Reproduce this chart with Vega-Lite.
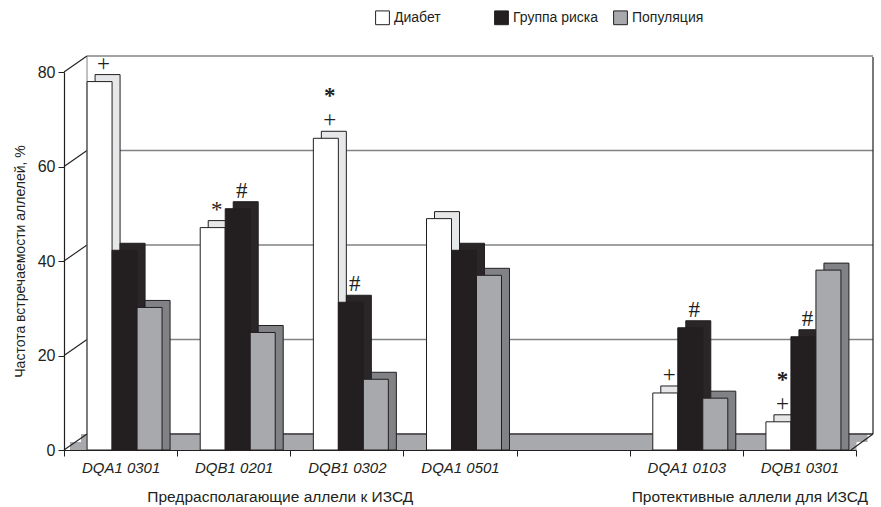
{
  "$schema": "https://vega.github.io/schema/vega-lite/v6.json",
  "width": 792,
  "height": 378,
  "autosize": {"type": "none"},
  "padding": {"left": 64, "top": 72, "right": 25, "bottom": 57},
  "background": "white",
  "config": {
    "view": {"stroke": null},
    "font": "Liberation Sans",
    "axis": {"grid": false, "domainColor": "#231f20", "tickColor": "#231f20", "labelColor": "#231f20", "titleColor": "#231f20"},
    "axisX": {"tickBand": "extent", "labelFontStyle": "italic", "labelFontSize": 15, "tickSize": 6, "labelPadding": 4, "labelAngle": 0, "domainWidth": 1.2},
    "axisY": {"labelFontSize": 16, "tickSize": 6, "labelPadding": 3, "titleFontSize": 14, "titleFontWeight": "normal", "titlePadding": 10, "domainWidth": 1.2, "tickCount": 5}
  },
  "datasets": {
    "bars": [
      {"allele": "DQA1 0301", "series": "Диабет", "value": 76.7, "m1": "+", "m2": ""},
      {"allele": "DQA1 0301", "series": "Группа риска", "value": 41.0, "m1": "", "m2": ""},
      {"allele": "DQA1 0301", "series": "Популяция", "value": 28.9, "m1": "", "m2": ""},
      {"allele": "DQB1 0201", "series": "Диабет", "value": 45.8, "m1": "*", "m2": ""},
      {"allele": "DQB1 0201", "series": "Группа риска", "value": 49.8, "m1": "#", "m2": ""},
      {"allele": "DQB1 0201", "series": "Популяция", "value": 23.6, "m1": "", "m2": ""},
      {"allele": "DQB1 0302", "series": "Диабет", "value": 64.7, "m1": "+", "m2": "*"},
      {"allele": "DQB1 0302", "series": "Группа риска", "value": 30.0, "m1": "#", "m2": ""},
      {"allele": "DQB1 0302", "series": "Популяция", "value": 13.7, "m1": "", "m2": ""},
      {"allele": "DQA1 0501", "series": "Диабет", "value": 47.7, "m1": "", "m2": ""},
      {"allele": "DQA1 0501", "series": "Группа риска", "value": 41.0, "m1": "", "m2": ""},
      {"allele": "DQA1 0501", "series": "Популяция", "value": 35.7, "m1": "", "m2": ""},
      {"allele": "DQA1 0103", "series": "Диабет", "value": 10.8, "m1": "+", "m2": ""},
      {"allele": "DQA1 0103", "series": "Группа риска", "value": 24.6, "m1": "#", "m2": ""},
      {"allele": "DQA1 0103", "series": "Популяция", "value": 9.7, "m1": "", "m2": ""},
      {"allele": "DQB1 0301", "series": "Диабет", "value": 4.7, "m1": "+", "m2": "*"},
      {"allele": "DQB1 0301", "series": "Группа риска", "value": 22.7, "m1": "#", "m2": ""},
      {"allele": "DQB1 0301", "series": "Популяция", "value": 36.8, "m1": "", "m2": ""}
    ],
    "ticks": [{"v": 0}, {"v": 20}, {"v": 40}, {"v": 60}, {"v": 80}],
    "groups": [
      {"label": "Предрасполагающие аллели к ИЗСД", "at": "DQB1 0201"},
      {"label": "Протективные аллели для ИЗСД", "at": "DQA1 0103"}
    ]
  },
  "resolve": {"scale": {"x": "independent"}},
  "layer": [
    {
      "data": {"name": "ticks"},
      "layer": [
        {
          "transform": [{"filter": "datum.v === 0"}],
          "mark": {"type": "rect", "fill": "#a7a9ac", "xOffset": 6, "x2Offset": 0.5, "y2Offset": -8},
          "encoding": {
            "x": {"datum": 0, "type": "quantitative", "scale": {"domain": [0, 1]}, "axis": null},
            "x2": {"datum": 1},
            "y": {"field": "v", "type": "quantitative", "scale": {"domain": [0, 80]}, "title": "Частота встречаемости аллелей, %"},
            "y2": {"field": "v"}
          }
        },
        {
          "transform": [{"filter": "datum.v === 0"}],
          "mark": {"type": "rect", "fill": "#a7a9ac", "xOffset": 17, "x2Offset": 11.5, "yOffset": -8, "y2Offset": -16},
          "encoding": {
            "x": {"datum": 0, "type": "quantitative"},
            "x2": {"datum": 1},
            "y": {"field": "v", "type": "quantitative", "title": "Частота встречаемости аллелей, %"},
            "y2": {"field": "v"}
          }
        },
        {
          "mark": {"type": "rule", "stroke": "#808285", "strokeWidth": 1.5, "xOffset": 23, "x2Offset": 17, "yOffset": -16, "y2Offset": -16},
          "encoding": {
            "x": {"datum": 0, "type": "quantitative"},
            "x2": {"datum": 1},
            "y": {"field": "v", "type": "quantitative", "title": "Частота встречаемости аллелей, %"},
            "y2": {"field": "v"}
          }
        },
        {
          "transform": [{"filter": "datum.v === 0"}],
          "mark": {"type": "rule", "stroke": "#231f20", "strokeWidth": 1.2, "xOffset": 23, "x2Offset": 17, "yOffset": -16, "y2Offset": -16},
          "encoding": {
            "x": {"datum": 0, "type": "quantitative"},
            "x2": {"datum": 1},
            "y": {"field": "v", "type": "quantitative", "title": "Частота встречаемости аллелей, %"},
            "y2": {"field": "v"}
          }
        },
        {
          "mark": {"type": "point", "shape": "stroke", "angle": -34.8, "size": 784, "filled": false, "stroke": "#231f20", "strokeWidth": 1.1, "opacity": 1, "xOffset": 11.5, "yOffset": -8},
          "encoding": {
            "x": {"datum": 0, "type": "quantitative"},
            "y": {"field": "v", "type": "quantitative", "title": "Частота встречаемости аллелей, %"}
          }
        },
        {
          "transform": [{"filter": "datum.v === 0"}],
          "mark": {"type": "point", "shape": "stroke", "angle": -36, "size": 740, "filled": false, "stroke": "#231f20", "strokeWidth": 1.1, "opacity": 1, "xOffset": 6, "yOffset": -8},
          "encoding": {
            "x": {"datum": 1, "type": "quantitative"},
            "y": {"field": "v", "type": "quantitative", "title": "Частота встречаемости аллелей, %"}
          }
        },
        {
          "transform": [{"filter": "datum.v === 0"}],
          "mark": {"type": "rule", "stroke": "#231f20", "strokeWidth": 1.2, "xOffset": 17, "yOffset": -16, "y2Offset": -15},
          "encoding": {
            "x": {"datum": 1, "type": "quantitative"},
            "y": {"datum": 0, "type": "quantitative"},
            "y2": {"datum": 80}
          }
        },
        {
          "transform": [{"filter": "datum.v === 0"}],
          "mark": {"type": "rule", "stroke": "#808285", "strokeWidth": 1, "xOffset": 23, "yOffset": -16, "y2Offset": -15},
          "encoding": {
            "x": {"datum": 0, "type": "quantitative"},
            "y": {"datum": 0, "type": "quantitative"},
            "y2": {"datum": 80}
          }
        }
      ]
    },
    {
      "data": {"name": "bars"},
      "layer": [
        {
          "transform": [{"filter": "datum.series === 'Диабет'"}],
          "mark": {"type": "bar", "width": 25, "xOffset": -13, "yOffset": -13, "y2Offset": -13, "fill": "#e6e7e8", "stroke": "#231f20", "strokeWidth": 1},
          "encoding": {
            "x": {"field": "allele", "type": "nominal", "title": null,
                  "scale": {"domain": ["DQA1 0301", "DQB1 0201", "DQB1 0302", "DQA1 0501", " ", "DQA1 0103", "DQB1 0301"], "paddingInner": 0, "paddingOuter": 0},
                  "axis": {"orient": "bottom", "title": null}},
            "y": {"field": "value", "type": "quantitative", "stack": null, "title": "Частота встречаемости аллелей, %"}
          }
        },
        {
          "transform": [{"filter": "datum.series === 'Диабет'"}],
          "mark": {"type": "bar", "width": 25, "xOffset": -21, "yOffset": -6, "y2Offset": -6, "stroke": "#231f20", "strokeWidth": 1, "opacity": 1},
          "encoding": {
            "x": {"field": "allele", "type": "nominal", "title": null},
            "y": {"field": "value", "type": "quantitative", "stack": null, "title": "Частота встречаемости аллелей, %"},
            "color": {"field": "series", "type": "nominal",
              "scale": {"domain": ["Диабет", "Группа риска", "Популяция"], "range": ["#ffffff", "#231f20", "#a7a9ac"]},
              "legend": {"orient": "none", "legendX": 311, "legendY": -62, "direction": "horizontal", "title": null,
                         "symbolType": "square", "symbolSize": 190, "symbolStrokeColor": "#231f20", "symbolStrokeWidth": 1,
                         "labelFontSize": 14, "labelColor": "#231f20", "columnPadding": 12, "gridAlign": "all", "symbolOpacity": 1}}
          }
        },
        {
          "transform": [{"filter": "datum.series === 'Группа риска'"}],
          "mark": {"type": "bar", "width": 25, "xOffset": 12, "yOffset": -13, "y2Offset": -13, "fill": "#2a2627", "stroke": "#231f20", "strokeWidth": 1},
          "encoding": {
            "x": {"field": "allele", "type": "nominal", "title": null},
            "y": {"field": "value", "type": "quantitative", "stack": null, "title": "Частота встречаемости аллелей, %"}
          }
        },
        {
          "transform": [{"filter": "datum.series === 'Группа риска'"}],
          "mark": {"type": "bar", "width": 25, "xOffset": 4, "yOffset": -6, "y2Offset": -6, "stroke": "#231f20", "strokeWidth": 1, "opacity": 1},
          "encoding": {
            "x": {"field": "allele", "type": "nominal", "title": null},
            "y": {"field": "value", "type": "quantitative", "stack": null, "title": "Частота встречаемости аллелей, %"},
            "color": {"field": "series", "type": "nominal"}
          }
        },
        {
          "transform": [{"filter": "datum.series === 'Популяция'"}],
          "mark": {"type": "bar", "width": 25, "xOffset": 37, "yOffset": -13, "y2Offset": -13, "fill": "#808285", "stroke": "#231f20", "strokeWidth": 1},
          "encoding": {
            "x": {"field": "allele", "type": "nominal", "title": null},
            "y": {"field": "value", "type": "quantitative", "stack": null, "title": "Частота встречаемости аллелей, %"}
          }
        },
        {
          "transform": [{"filter": "datum.series === 'Популяция'"}],
          "mark": {"type": "bar", "width": 25, "xOffset": 29, "yOffset": -6, "y2Offset": -6, "stroke": "#231f20", "strokeWidth": 1, "opacity": 1},
          "encoding": {
            "x": {"field": "allele", "type": "nominal", "title": null},
            "y": {"field": "value", "type": "quantitative", "stack": null, "title": "Частота встречаемости аллелей, %"},
            "color": {"field": "series", "type": "nominal"}
          }
        },
        {
          "transform": [{"filter": "datum.series === 'Диабет'"}],
          "mark": {"type": "text", "font": "Liberation Serif", "fontSize": 23, "baseline": "middle", "align": "center", "dx": -17, "dy": -24, "color": "#231f20"},
          "encoding": {
            "x": {"field": "allele", "type": "nominal", "title": null},
            "y": {"field": "value", "type": "quantitative", "title": "Частота встречаемости аллелей, %"},
            "text": {"field": "m1"}
          }
        },
        {
          "transform": [{"filter": "datum.series === 'Диабет'"}],
          "mark": {"type": "text", "font": "Liberation Serif", "fontSize": 23, "fontWeight": "bold", "baseline": "middle", "align": "center", "dx": -17, "dy": -48, "color": "#231f20"},
          "encoding": {
            "x": {"field": "allele", "type": "nominal", "title": null},
            "y": {"field": "value", "type": "quantitative", "title": "Частота встречаемости аллелей, %"},
            "text": {"field": "m2"}
          }
        },
        {
          "transform": [{"filter": "datum.series === 'Группа риска'"}],
          "mark": {"type": "text", "font": "Liberation Serif", "fontSize": 23, "baseline": "middle", "align": "center", "dx": 8, "dy": -24, "color": "#231f20"},
          "encoding": {
            "x": {"field": "allele", "type": "nominal", "title": null},
            "y": {"field": "value", "type": "quantitative", "title": "Частота встречаемости аллелей, %"},
            "text": {"field": "m1"}
          }
        },
        {
          "data": {"name": "groups"},
          "transform": [{"filter": "datum.at === 'DQB1 0201'"}],
          "mark": {"type": "text", "fontSize": 15.5, "baseline": "middle", "align": "center", "color": "#231f20", "dx": -10},
          "encoding": {
            "x": {"field": "at", "type": "nominal", "bandPosition": 1, "title": null},
            "y": {"datum": -10, "type": "quantitative"},
            "text": {"field": "label"}
          }
        },
        {
          "data": {"name": "groups"},
          "transform": [{"filter": "datum.at === 'DQA1 0103'"}],
          "mark": {"type": "text", "fontSize": 15.5, "baseline": "middle", "align": "center", "color": "#231f20", "dx": 7},
          "encoding": {
            "x": {"field": "at", "type": "nominal", "bandPosition": 1, "title": null},
            "y": {"datum": -10, "type": "quantitative"},
            "text": {"field": "label"}
          }
        }
      ]
    }
  ]
}
